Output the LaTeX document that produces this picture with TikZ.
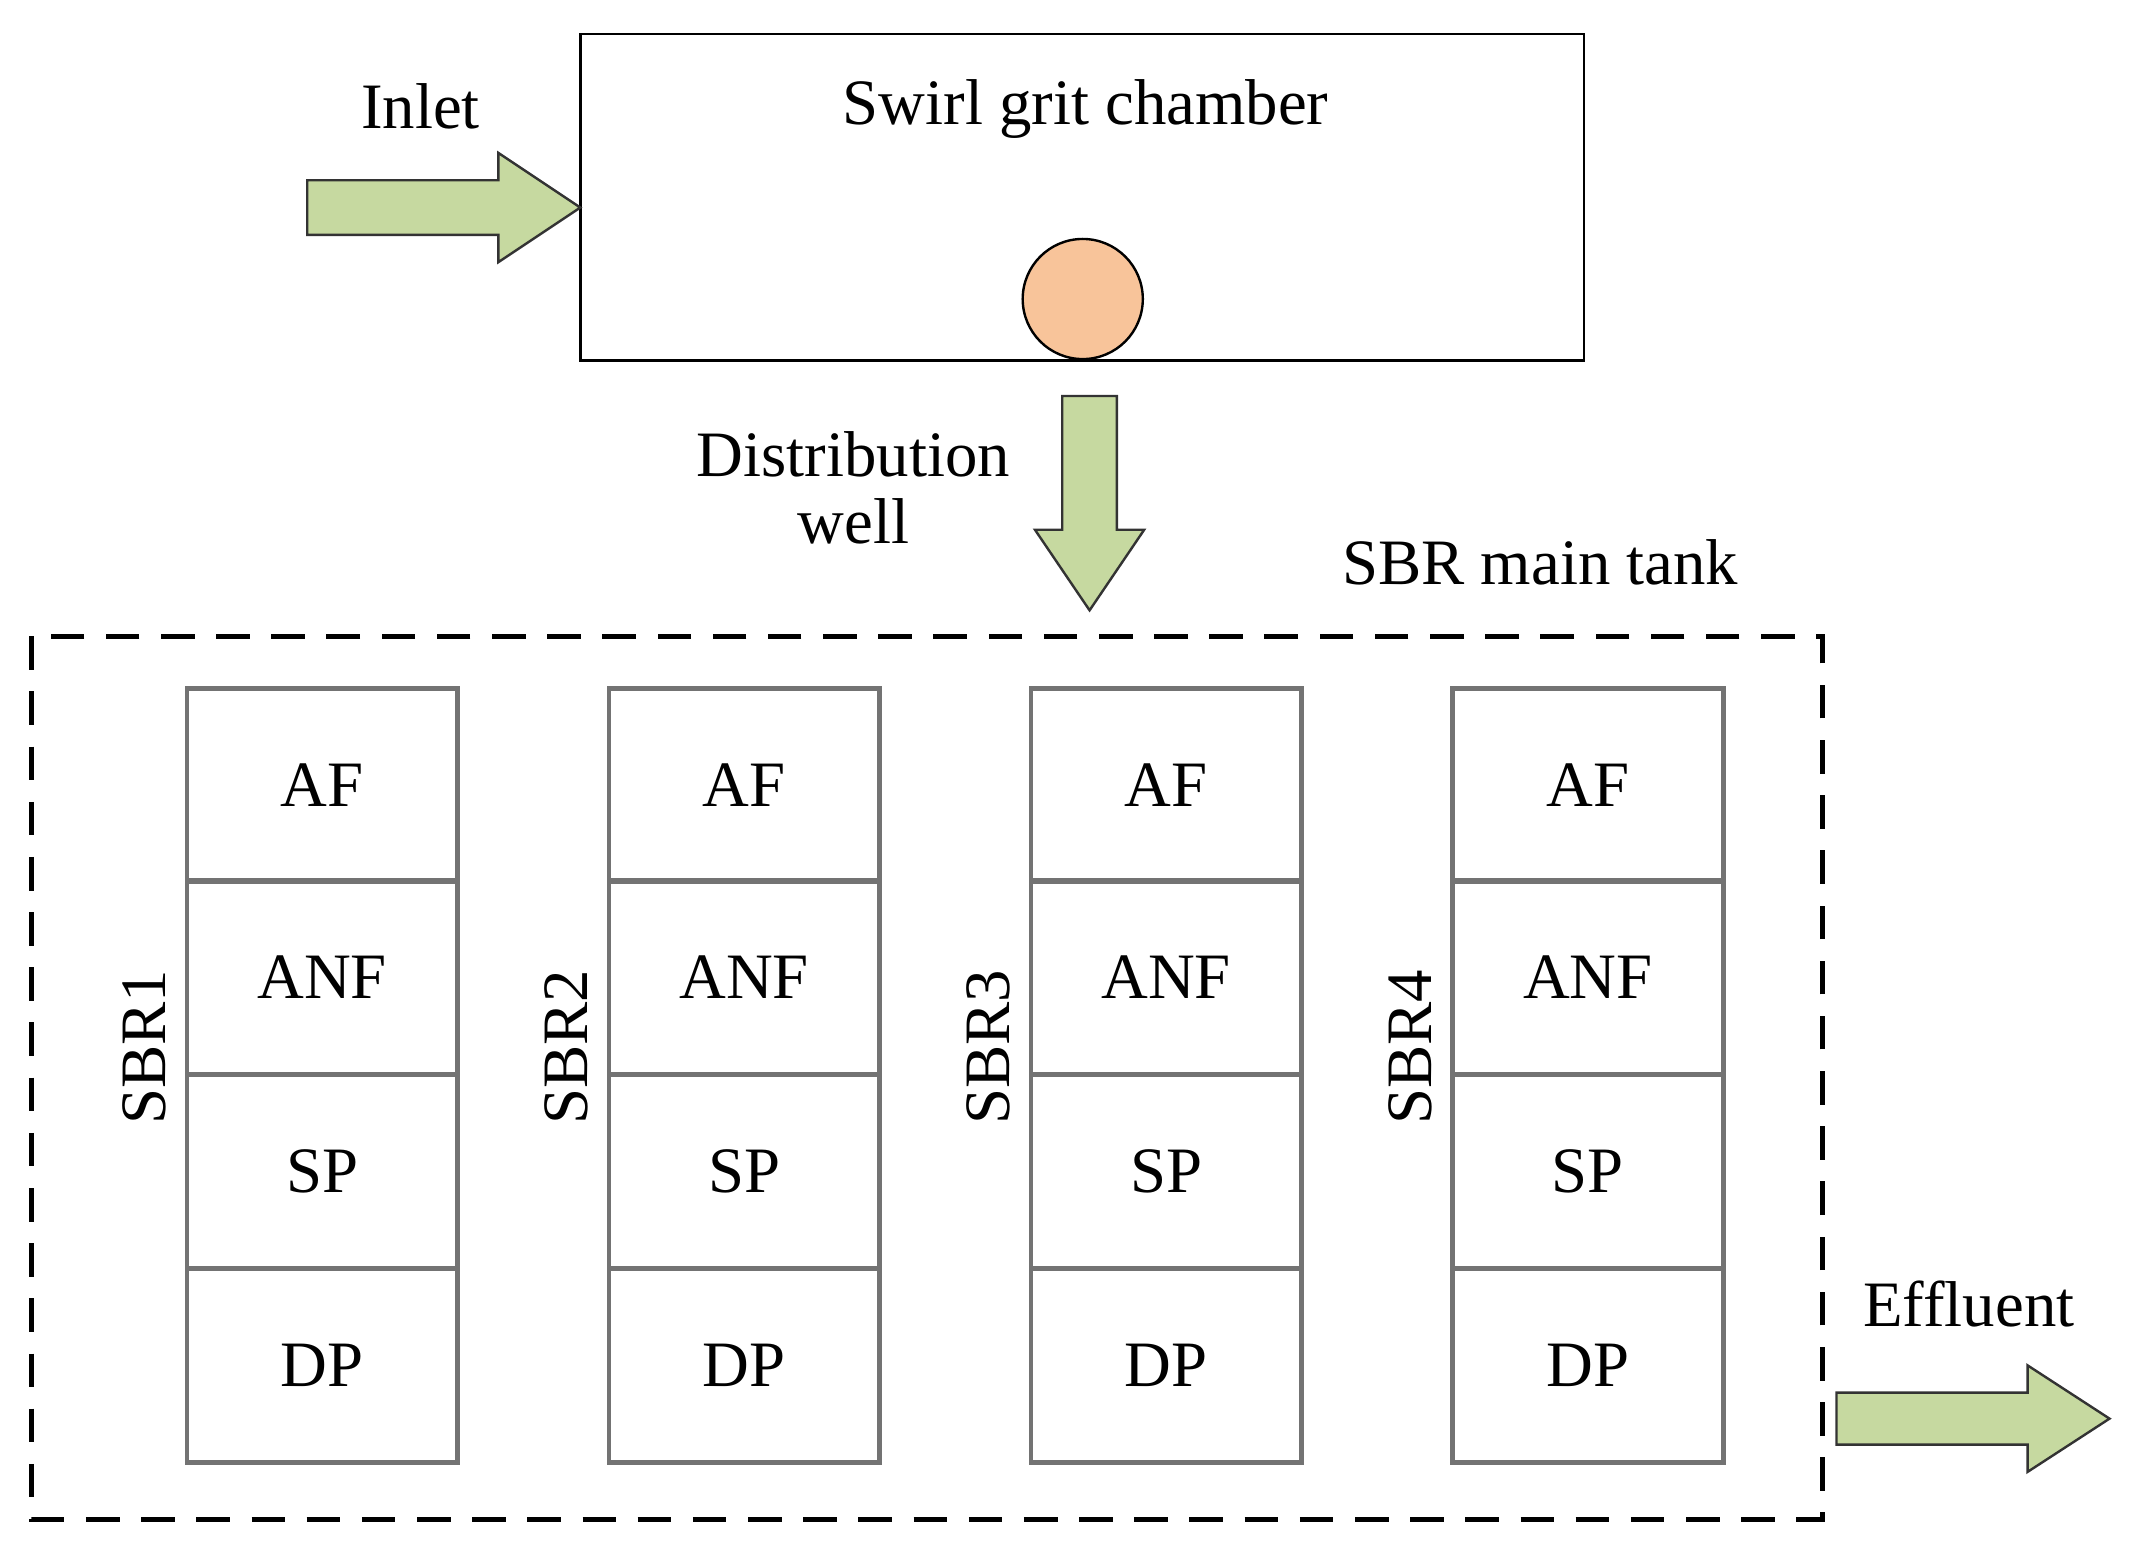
\documentclass[tikz,border=0pt]{standalone}
\usepackage{fontspec}
\setmainfont{Liberation Serif}
\begin{document}
\begin{tikzpicture}[x=0.02cm,y=-0.02cm,
  lbl/.style={font=\fontsize{27}{30}\selectfont},
  cell/.style={draw=gray!90!black,line width=2pt,minimum width=3.96cm,minimum height=2.84cm,inner sep=0pt,font=\fontsize{27}{30}\selectfont},
  garrow/.style={fill=green!20!olive!30!white,draw=black!80,line width=1pt}]
\useasboundingbox (0,0) rectangle (1560,1131);
\definecolor{ga}{HTML}{C6D9A0}
\definecolor{peach}{HTML}{F8C49A}
\node[draw,line width=1pt,minimum width=14.7cm,minimum height=4.78cm,inner sep=0pt] (swirl) at (792.5,144.5) {};
\node[lbl] (swt) at (795,80) {Swirl grit chamber};
\node[draw,fill=peach,line width=1pt,circle,minimum size=1.76cm,inner sep=0pt] (ball) at (793,219) {};
\node[lbl] (inlet) at (308,78) {Inlet};
\draw[fill=ga,draw=black!80,line width=1pt] (225,132)--(365,132)--(365,112)--(425,152)--(365,192)--(365,172)--(225,172)--cycle;
\draw[fill=ga,draw=black!80,line width=1pt] (778,290)--(818,290)--(818,388)--(838,388)--(798,447)--(758,388)--(778,388)--cycle;
\draw[fill=ga,draw=black!80,line width=1pt] (1345,1020)--(1485,1020)--(1485,1000)--(1545,1039)--(1485,1078)--(1485,1058)--(1345,1058)--cycle;
\node[lbl,align=center] (dw) at (625,357) {Distribution\\[-2pt]well};
\node[lbl] (sbrm) at (1128,412) {SBR main tank};
\node[lbl] (eff) at (1442,955) {Effluent};
\draw[dashed,line width=2pt,dash pattern=on 14pt off 9pt] (23,466) rectangle (1335,1113);
\foreach \i/\x in {1/236,2/545,3/854,4/1163}{
  \node[cell] (af\i) at (\x,575) {AF};
  \node[cell] (anf\i) at (\x,716) {ANF};
  \node[cell] (sp\i) at (\x,858) {SP};
  \node[cell] (dp\i) at (\x,1000) {DP};
  \node[lbl,rotate=90] (s\i) at (\x-130,767) {SBR\i};
}
\end{tikzpicture}
\end{document}
